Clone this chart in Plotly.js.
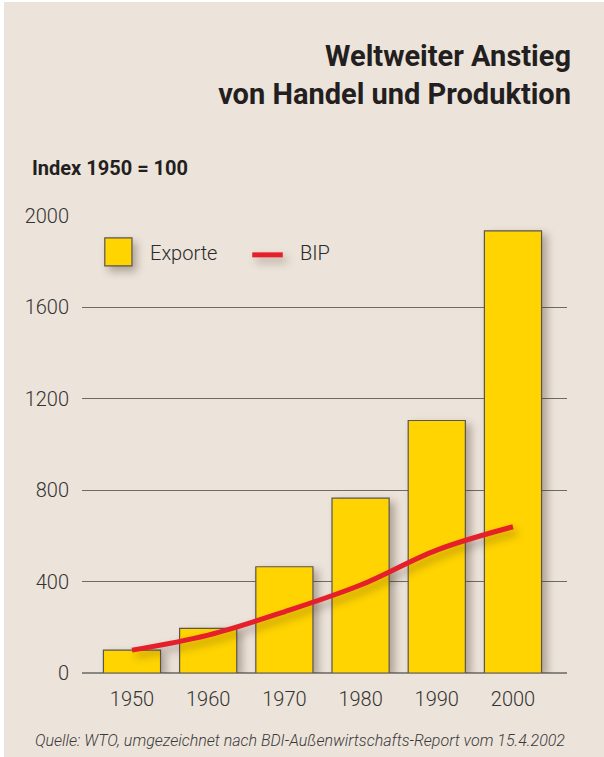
<!DOCTYPE html>
<html>
<head>
<meta charset="utf-8">
<script src="https://cdn.plot.ly/plotly-3.0.1.min.js"></script>
<style>
  html, body { margin: 0; padding: 0; background: #ffffff; }
  #chart { position: absolute; left: 4px; top: 2px; width: 600px; height: 755px; }
</style>
</head>
<body>
<div id="chart"></div>
<script>
const years = ['1950', '1960', '1970', '1980', '1990', '2000'];
const exporte = [100, 195, 465, 765, 1105, 1935];
const bip = [100, 166, 268, 385, 538, 640];
const yTicks = [0, 400, 800, 1200, 1600, 2000];
const seriesNames = ['Exporte', 'BIP'];
const titleText = 'Weltweiter Anstieg<br>von Handel und Produktion';
const unitText = 'Index 1950 = 100';
const sourceText = 'Quelle: WTO, umgezeichnet nach BDI-Außenwirtschafts-Report vom 15.4.2002';

const FONT = 'Roboto, "Liberation Sans Narrow", sans-serif';
const BG = 'rgb(236,227,218)';
const YELLOW = '#FFD400';
const RED = '#E5202A';

const traces = [
  {
    type: 'bar', x: years, y: exporte, name: seriesNames[0],
    marker: { color: YELLOW, line: { color: '#5a5550', width: 1.2 } },
    hoverinfo: 'x+y'
  },
  {
    type: 'scatter', mode: 'lines', x: years, y: bip, name: seriesNames[1],
    line: { color: RED, width: 5, shape: 'spline', smoothing: 1 },
    hoverinfo: 'x+y'
  }
];

const layout = {
  width: 600, height: 755,
  paper_bgcolor: BG, plot_bgcolor: BG,
  margin: { l: 78, r: 37, t: 214, b: 84 },
  showlegend: false,
  bargap: 0.25,
  font: { family: FONT, color: '#3a3a3a' },
  title: {
    text: titleText,
    font: { family: FONT, size: 29, color: '#231f20', weight: 'bold' },
    xref: 'container', x: 0.945, xanchor: 'right',
    yref: 'container', y: 0.915, yanchor: 'top'
  },
  xaxis: {
    type: 'category', range: [-0.656, 5.709],
    showgrid: false, zeroline: false, showline: false,
    ticks: 'outside', ticklen: 8, tickcolor: 'rgba(0,0,0,0)',
    tickfont: { family: FONT, size: 20, color: '#333333', weight: 300 }
  },
  yaxis: {
    range: [0, 2000], tickvals: yTicks,
    showgrid: true, gridcolor: '#6e6a66', gridwidth: 1,
    zeroline: true, zerolinecolor: '#8a8682', zerolinewidth: 1.5,
    showline: false,
    ticks: 'outside', ticklen: 8, tickcolor: 'rgba(0,0,0,0)',
    tickfont: { family: FONT, size: 20, color: '#333333', weight: 300 }
  },
  shapes: [
    { type: 'rect', xref: 'paper', yref: 'paper', x0: 0.047, x1: 0.103, y0: 0.891, y1: 0.952,
      fillcolor: YELLOW, line: { color: '#5a5550', width: 1.2 } },
    { type: 'line', xref: 'paper', yref: 'paper', x0: 0.351, x1: 0.414, y0: 0.915, y1: 0.915,
      line: { color: RED, width: 5 } }
  ],
  annotations: [
    { xref: 'paper', yref: 'paper', x: 0.136, y: 0.918, xanchor: 'left', yanchor: 'middle',
      text: seriesNames[0], showarrow: false, font: { family: FONT, size: 20, color: '#2a2a2a', weight: 300 } },
    { xref: 'paper', yref: 'paper', x: 0.445, y: 0.918, xanchor: 'left', yanchor: 'middle',
      text: seriesNames[1], showarrow: false, font: { family: FONT, size: 20, color: '#2a2a2a', weight: 300 } },
    { xref: 'paper', yref: 'paper', x: -0.107, y: 1.106, xanchor: 'left', yanchor: 'middle',
      text: unitText, showarrow: false, font: { family: FONT, size: 20, color: '#231f20', weight: 'bold' } },
    { xref: 'paper', yref: 'paper', x: 1.0, y: -0.147, xanchor: 'right', yanchor: 'middle',
      text: sourceText, showarrow: false, font: { family: FONT, size: 16, color: '#3a3a3a', style: 'italic', weight: 300 } }
  ]
};

Plotly.newPlot('chart', traces, layout, { displayModeBar: false, staticPlot: true }).then(function (gd) {
  gd.querySelectorAll('.barlayer .point path').forEach(function (p) {
    p.style.filter = 'drop-shadow(5px 4px 4px rgba(60,40,20,0.35))';
  });
  gd.querySelectorAll('.scatterlayer .js-line').forEach(function (p) {
    p.style.filter = 'drop-shadow(4px 5px 4px rgba(60,40,20,0.35))';
  });
  gd.querySelectorAll('.layer-above .shapelayer path').forEach(function (p) {
    p.style.filter = 'drop-shadow(4px 5px 4px rgba(60,40,20,0.35))';
  });
});
</script>
</body>
</html>
